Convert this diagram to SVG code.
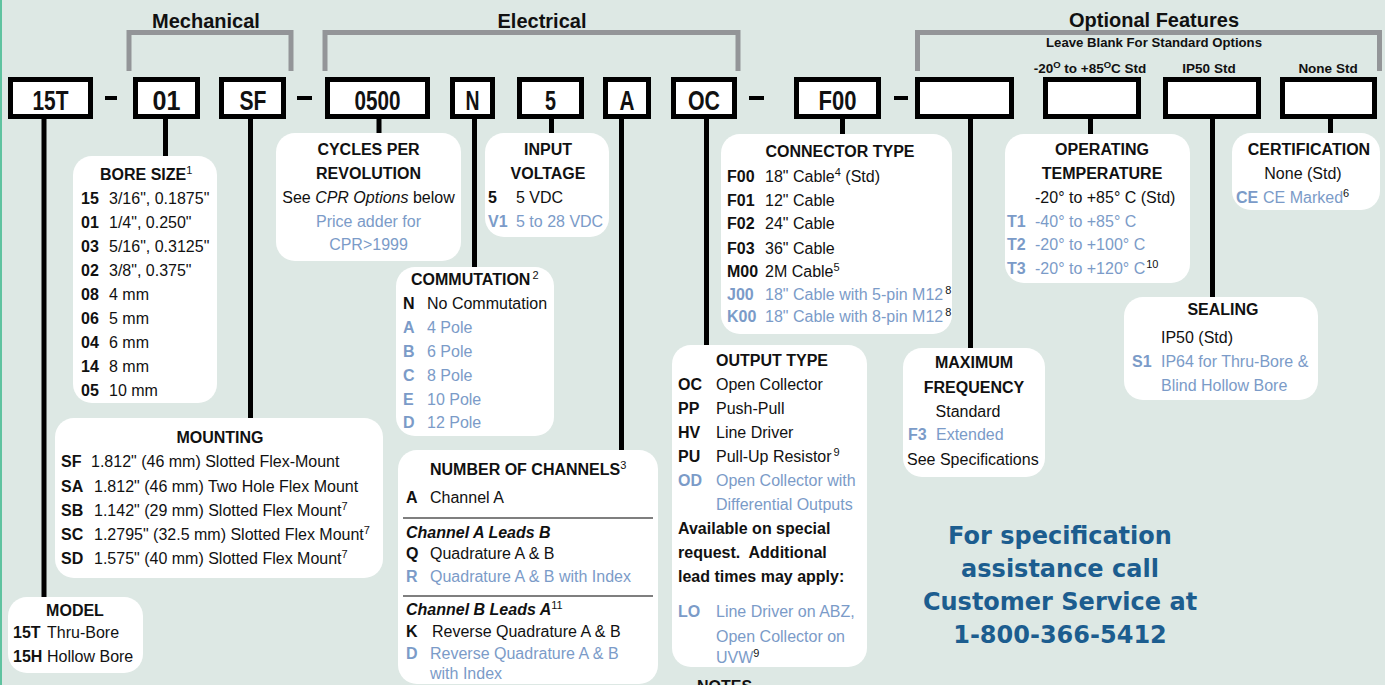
<svg xmlns="http://www.w3.org/2000/svg" width="1385" height="685" viewBox="0 0 1385 685">
<defs>
<style>
text{font-family:"Liberation Sans",Arial,sans-serif;font-size:16px;fill:#111}
.b{font-weight:bold}
.i{font-style:italic}
.bl{fill:#7b9bc8}
.c{text-anchor:middle}
.sup{font-size:11px}
.hdr{font-size:20px;font-weight:bold;text-anchor:middle}
.sub{font-size:13.5px;font-weight:bold;text-anchor:middle}
.code{font-size:27px;font-weight:bold;text-anchor:middle}
.box{fill:#fff;stroke:#000;stroke-width:5}
.card{fill:#fff}
.conn{stroke:#000;stroke-width:5;fill:none}
.brk{fill:none;stroke:#939598;stroke-width:5}
.dash{fill:#000}
.phone{font-family:"DejaVu Sans",Verdana,sans-serif;font-size:24px;font-weight:bold;fill:#1c5d8f;text-anchor:middle}
</style>
</defs>
<rect width="1385" height="685" fill="#dde8e4"/>
<rect x="0" y="0" width="2" height="685" fill="#5fc3a0"/>

<!-- brackets and headers -->
<g id="headers">
<path class="brk" d="M129,71 V32.5 H291 V71"/>
<path class="brk" d="M325,71 V32.5 H738 V71"/>
<path class="brk" d="M917.5,71 V32.5 H1379.5 V71"/>
<text class="hdr" x="206" y="28">Mechanical</text>
<text class="hdr" x="542" y="28">Electrical</text>
<text class="hdr" x="1154" y="27">Optional Features</text>
<text class="sub" x="1154" y="47" textLength="216" lengthAdjust="spacingAndGlyphs">Leave Blank For Standard Options</text>
<text class="sub" x="1090" y="73">-20<tspan font-size="9.5" dy="-5">O</tspan><tspan dy="5"> to +85</tspan><tspan font-size="9.5" dy="-5">O</tspan><tspan dy="5">C Std</tspan></text>
<text class="sub" x="1209" y="73">IP50 Std</text>
<text class="sub" x="1328" y="73">None Std</text>
</g>

<!-- connectors -->
<g id="connectors">
<line class="conn" x1="44" y1="117" x2="44" y2="598"/>
<line class="conn" x1="165.5" y1="117" x2="165.5" y2="157"/>
<line class="conn" x1="250.5" y1="117" x2="250.5" y2="419"/>
<line class="conn" x1="379" y1="117" x2="379" y2="134"/>
<line class="conn" x1="474.5" y1="117" x2="474.5" y2="268"/>
<line class="conn" x1="551.5" y1="117" x2="551.5" y2="134"/>
<line class="conn" x1="621.5" y1="117" x2="621.5" y2="451"/>
<line class="conn" x1="706.5" y1="117" x2="706.5" y2="346"/>
<line class="conn" x1="842.5" y1="117" x2="842.5" y2="135"/>
<line class="conn" x1="970.5" y1="117" x2="970.5" y2="349"/>
<line class="conn" x1="1090.5" y1="117" x2="1090.5" y2="135"/>
<line class="conn" x1="1212.5" y1="117" x2="1212.5" y2="298"/>
<line class="conn" x1="1330.5" y1="117" x2="1330.5" y2="134"/>
</g>

<!-- dashes -->
<g id="dashes">
<rect class="dash" x="105" y="96" width="12" height="4"/>
<rect class="dash" x="297" y="96" width="15" height="4"/>
<rect class="dash" x="749" y="96" width="15" height="4"/>
<rect class="dash" x="894" y="96" width="14" height="4"/>
</g>

<!-- code boxes -->
<g id="code-15T"><rect class="box" x="10.5" y="79.5" width="80" height="37"/><text class="code" x="50.5" y="110" textLength="36" lengthAdjust="spacingAndGlyphs">15T</text></g>
<g id="code-01"><rect class="box" x="135.5" y="79.5" width="62" height="37"/><text class="code" x="166.5" y="110" textLength="28" lengthAdjust="spacingAndGlyphs">01</text></g>
<g id="code-SF"><rect class="box" x="221.5" y="79.5" width="62" height="37"/><text class="code" x="253" y="110" textLength="27" lengthAdjust="spacingAndGlyphs">SF</text></g>
<g id="code-0500"><rect class="box" x="327.5" y="79.5" width="100" height="37"/><text class="code" x="377.5" y="110" textLength="46" lengthAdjust="spacingAndGlyphs">0500</text></g>
<g id="code-N"><rect class="box" x="452.5" y="79.5" width="40" height="37"/><text class="code" x="472.5" y="110" textLength="14" lengthAdjust="spacingAndGlyphs">N</text></g>
<g id="code-5"><rect class="box" x="519.5" y="79.5" width="62" height="37"/><text class="code" x="550.5" y="110" textLength="11" lengthAdjust="spacingAndGlyphs">5</text></g>
<g id="code-A"><rect class="box" x="605.5" y="79.5" width="43" height="37"/><text class="code" x="627" y="110" textLength="15" lengthAdjust="spacingAndGlyphs">A</text></g>
<g id="code-OC"><rect class="box" x="673.5" y="79.5" width="61" height="37"/><text class="code" x="704" y="110" textLength="32" lengthAdjust="spacingAndGlyphs">OC</text></g>
<g id="code-F00"><rect class="box" x="796.5" y="79.5" width="82" height="37"/><text class="code" x="837.5" y="110" textLength="38" lengthAdjust="spacingAndGlyphs">F00</text></g>
<g id="code-freq"><rect class="box" x="917.5" y="79.5" width="94" height="37"/></g>
<g id="code-temp"><rect class="box" x="1045.5" y="79.5" width="93" height="37"/></g>
<g id="code-seal"><rect class="box" x="1165.5" y="79.5" width="93" height="37"/></g>
<g id="code-cert"><rect class="box" x="1282.5" y="79.5" width="92" height="37"/></g>

<!-- BORE SIZE -->
<g id="bore-size">
<rect class="card" x="73" y="156" width="144" height="247" rx="19"/>
<text class="b" x="100" y="180">BORE SIZE<tspan class="sup" font-weight="normal" dy="-6">1</tspan></text>
<text class="b" x="81" y="204">15</text><text x="109" y="204">3/16", 0.1875"</text>
<text class="b" x="81" y="228">01</text><text x="109" y="228">1/4", 0.250"</text>
<text class="b" x="81" y="252">03</text><text x="109" y="252">5/16", 0.3125"</text>
<text class="b" x="81" y="276">02</text><text x="109" y="276">3/8", 0.375"</text>
<text class="b" x="81" y="300">08</text><text x="109" y="300">4 mm</text>
<text class="b" x="81" y="324">06</text><text x="109" y="324">5 mm</text>
<text class="b" x="81" y="348">04</text><text x="109" y="348">6 mm</text>
<text class="b" x="81" y="372">14</text><text x="109" y="372">8 mm</text>
<text class="b" x="81" y="396">05</text><text x="109" y="396">10 mm</text>
</g>

<!-- CPR -->
<g id="cpr">
<rect class="card" x="276" y="133" width="185" height="128" rx="19"/>
<text class="b c" x="368.5" y="155">CYCLES PER</text>
<text class="b c" x="368.5" y="179">REVOLUTION</text>
<text class="c" x="368.5" y="203">See <tspan class="i">CPR Options</tspan> below</text>
<text class="c bl" x="368.5" y="227">Price adder for</text>
<text class="c bl" x="368.5" y="250">CPR&gt;1999</text>
</g>

<!-- INPUT VOLTAGE -->
<g id="input-voltage">
<rect class="card" x="485" y="133" width="124" height="104" rx="19"/>
<text class="b c" x="548" y="155">INPUT</text>
<text class="b c" x="548" y="179">VOLTAGE</text>
<text class="b" x="488" y="203">5</text><text x="516" y="203">5 VDC</text>
<text class="b bl" x="488" y="227">V1</text><text class="bl" x="516" y="227">5 to 28 VDC</text>
</g>

<!-- COMMUTATION -->
<g id="commutation">
<rect class="card" x="396" y="267" width="158" height="169" rx="19"/>
<text class="b" x="411" y="285">COMMUTATION<tspan class="sup" font-weight="normal" dx="2" dy="-6">2</tspan></text>
<text class="b" x="403" y="309">N</text><text x="427" y="309">No Commutation</text>
<text class="b bl" x="403" y="333">A</text><text class="bl" x="427" y="333">4 Pole</text>
<text class="b bl" x="403" y="357">B</text><text class="bl" x="427" y="357">6 Pole</text>
<text class="b bl" x="403" y="381">C</text><text class="bl" x="427" y="381">8 Pole</text>
<text class="b bl" x="403" y="405">E</text><text class="bl" x="427" y="405">10 Pole</text>
<text class="b bl" x="403" y="428">D</text><text class="bl" x="427" y="428">12 Pole</text>
</g>

<!-- NUMBER OF CHANNELS -->
<g id="channels">
<rect class="card" x="398" y="450" width="260" height="234" rx="19"/>
<text class="b" x="430" y="475">NUMBER OF CHANNELS<tspan class="sup" font-weight="normal" dy="-6">3</tspan></text>
<text class="b" x="406" y="503">A</text><text x="430" y="503">Channel A</text>
<line x1="403" y1="518" x2="653" y2="518" stroke="#000" stroke-width="1.2"/>
<text class="b i" x="406" y="538">Channel A Leads B</text>
<text class="b" x="406" y="559">Q</text><text x="430" y="559">Quadrature A &amp; B</text>
<text class="b bl" x="406" y="582">R</text><text class="bl" x="430" y="582">Quadrature A &amp; B with Index</text>
<line x1="403" y1="596" x2="653" y2="596" stroke="#000" stroke-width="1.2"/>
<text class="b i" x="406" y="615">Channel B Leads A<tspan class="sup" font-weight="normal" font-style="normal" dy="-6">11</tspan></text>
<text class="b" x="406" y="637">K</text><text x="432" y="637">Reverse Quadrature A &amp; B</text>
<text class="b bl" x="406" y="659">D</text><text class="bl" x="430" y="659">Reverse Quadrature A &amp; B</text>
<text class="bl" x="430" y="679">with Index</text>
</g>

<!-- MOUNTING -->
<g id="mounting">
<rect class="card" x="55" y="418" width="328" height="160" rx="19"/>
<text class="b c" x="220" y="443">MOUNTING</text>
<text class="b" x="61" y="467">SF</text><text x="91" y="467">1.812" (46 mm) Slotted Flex-Mount</text>
<text class="b" x="61" y="492">SA</text><text x="94" y="492">1.812" (46 mm) Two Hole Flex Mount</text>
<text class="b" x="61" y="516">SB</text><text x="94" y="516">1.142" (29 mm) Slotted Flex Mount<tspan class="sup" dy="-6">7</tspan></text>
<text class="b" x="61" y="540">SC</text><text x="94" y="540">1.2795" (32.5 mm) Slotted Flex Mount<tspan class="sup" dy="-6">7</tspan></text>
<text class="b" x="61" y="564">SD</text><text x="94" y="564">1.575" (40 mm) Slotted Flex Mount<tspan class="sup" dy="-6">7</tspan></text>
</g>

<!-- MODEL -->
<g id="model">
<rect class="card" x="8" y="597" width="135" height="76" rx="19"/>
<text class="b c" x="75" y="616">MODEL</text>
<text class="b" x="13" y="638">15T</text><text x="47" y="638">Thru-Bore</text>
<text class="b" x="13" y="662">15H</text><text x="47" y="662">Hollow Bore</text>
</g>

<!-- CONNECTOR TYPE -->
<g id="connector-type">
<rect class="card" x="721" y="134" width="231" height="200" rx="19"/>
<text class="b c" x="840" y="157">CONNECTOR TYPE</text>
<text class="b" x="727" y="182">F00</text><text x="765" y="182">18" Cable<tspan class="sup" dy="-6">4</tspan><tspan dy="6"> (Std)</tspan></text>
<text class="b" x="727" y="206">F01</text><text x="765" y="206">12" Cable</text>
<text class="b" x="727" y="229">F02</text><text x="765" y="229">24" Cable</text>
<text class="b" x="727" y="254">F03</text><text x="765" y="254">36" Cable</text>
<text class="b" x="727" y="277">M00</text><text x="765" y="277">2M Cable<tspan class="sup" dy="-6">5</tspan></text>
<text class="b bl" x="727" y="300">J00</text><text class="bl" x="765" y="300">18" Cable with 5-pin M12<tspan class="sup" fill="#111" dx="2" dy="-6">8</tspan></text>
<text class="b bl" x="727" y="322">K00</text><text class="bl" x="765" y="322">18" Cable with 8-pin M12<tspan class="sup" fill="#111" dx="2" dy="-6">8</tspan></text>
</g>

<!-- OUTPUT TYPE -->
<g id="output-type">
<rect class="card" x="672" y="345" width="195" height="322" rx="19"/>
<text class="b" x="716" y="366">OUTPUT TYPE</text>
<text class="b" x="678" y="390">OC</text><text x="716" y="390">Open Collector</text>
<text class="b" x="678" y="414">PP</text><text x="716" y="414">Push-Pull</text>
<text class="b" x="678" y="438">HV</text><text x="716" y="438">Line Driver</text>
<text class="b" x="678" y="462">PU</text><text x="716" y="462">Pull-Up Resistor<tspan class="sup" dx="2" dy="-6">9</tspan></text>
<text class="b bl" x="678" y="486">OD</text><text class="bl" x="716" y="486">Open Collector with</text>
<text class="bl" x="716" y="510">Differential Outputs</text>
<text class="b" x="678" y="534">Available on special</text>
<text class="b" x="678" y="558" xml:space="preserve">request.  Additional</text>
<text class="b" x="678" y="582">lead times may apply:</text>
<text class="b bl" x="678" y="617">LO</text><text class="bl" x="716" y="617">Line Driver on ABZ,</text>
<text class="bl" x="716" y="642">Open Collector on</text>
<text class="bl" x="716" y="663">UVW<tspan class="sup" fill="#111" dy="-6">9</tspan></text>
</g>
<text class="b" x="697" y="692">NOTES</text>

<!-- MAXIMUM FREQUENCY -->
<g id="max-frequency">
<rect class="card" x="903" y="348" width="142" height="129" rx="19"/>
<text class="b c" x="974" y="368">MAXIMUM</text>
<text class="b c" x="974" y="393">FREQUENCY</text>
<text class="c" x="968" y="417">Standard</text>
<text class="b bl" x="908" y="440">F3</text><text class="bl" x="936" y="440">Extended</text>
<text x="907" y="465">See Specifications</text>
</g>

<!-- OPERATING TEMPERATURE -->
<g id="operating-temperature">
<rect class="card" x="1005" y="134" width="185" height="149" rx="19"/>
<text class="b c" x="1102" y="155">OPERATING</text>
<text class="b c" x="1102" y="179">TEMPERATURE</text>
<text x="1035" y="203">-20° to +85° C (Std)</text>
<text class="b bl" x="1007" y="227">T1</text><text class="bl" x="1035" y="227">-40° to +85° C</text>
<text class="b bl" x="1007" y="250">T2</text><text class="bl" x="1035" y="250">-20° to +100° C</text>
<text class="b bl" x="1007" y="274">T3</text><text class="bl" x="1035" y="274">-20° to +120° C<tspan class="sup" fill="#111" dx="1" dy="-6">10</tspan></text>
</g>

<!-- CERTIFICATION -->
<g id="certification">
<rect class="card" x="1232" y="133" width="148" height="77" rx="19"/>
<text class="b c" x="1309" y="155">CERTIFICATION</text>
<text class="c" x="1303" y="179">None (Std)</text>
<text class="b bl" x="1236" y="203">CE</text><text class="bl" x="1263" y="203">CE Marked<tspan class="sup" fill="#111" dy="-6">6</tspan></text>
</g>

<!-- SEALING -->
<g id="sealing">
<rect class="card" x="1124" y="297" width="194" height="103" rx="19"/>
<text class="b c" x="1223" y="315">SEALING</text>
<text x="1161" y="343">IP50 (Std)</text>
<text class="b bl" x="1132" y="367">S1</text><text class="bl" x="1161" y="367">IP64 for Thru-Bore &amp;</text>
<text class="bl" x="1161" y="391">Blind Hollow Bore</text>
</g>

<!-- contact -->
<g id="contact">
<text class="phone" x="1060" y="544">For specification</text>
<text class="phone" x="1060" y="577">assistance call</text>
<text class="phone" x="1060" y="610">Customer Service at</text>
<text class="phone" x="1060" y="643">1-800-366-5412</text>
</g>
</svg>
